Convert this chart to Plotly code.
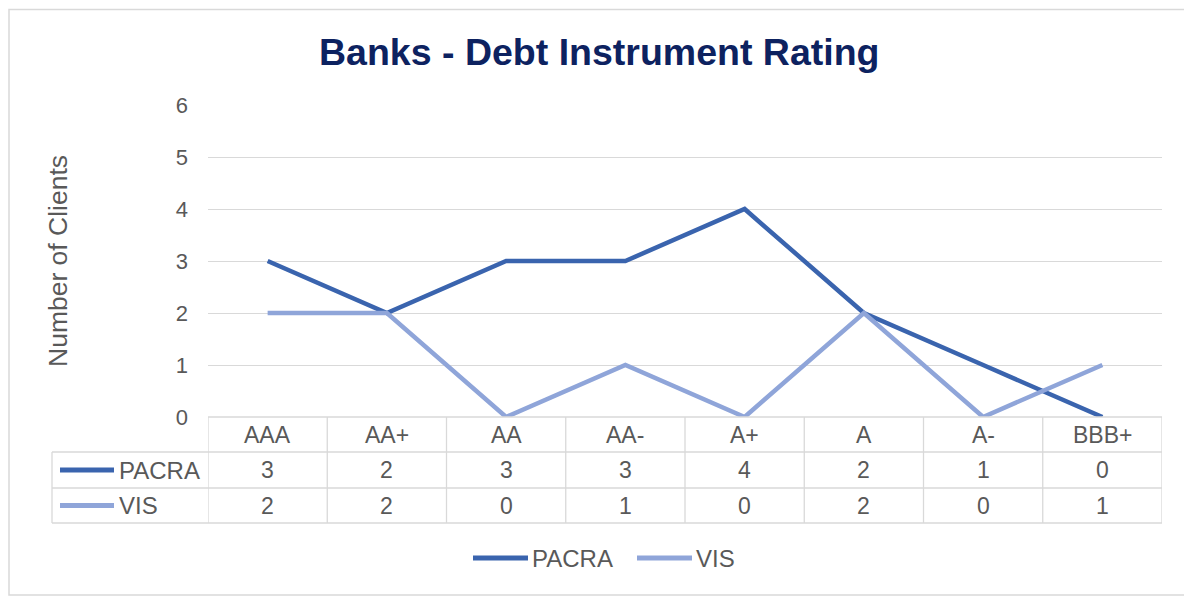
import plotly.graph_objects as go

categories = ["AAA", "AA+", "AA", "AA-", "A+", "A", "A-", "BBB+"]
pacra = [3, 2, 3, 3, 4, 2, 1, 0]
vis = [2, 2, 0, 1, 0, 2, 0, 1]
series_names = ["PACRA", "VIS"]
y_ticks = [0, 1, 2, 3, 4, 5, 6]

OFF = 8  # page body margin
W, H = 1192 - OFF, 597 - OFF
L, R, T, B = 208, 1162, 105, 417
PW, PH = R - L, B - T
C_PACRA = "#3A64AE"
C_VIS = "#8FA5D9"
GRID = "#D9D9D9"
TXT = "#595959"
FONT = "Liberation Sans, Arial, sans-serif"


def px(x):
    return (x - L) / PW


def py(y):
    return (B - y) / PH


fig = go.Figure()
for name, vals, col in [(series_names[0], pacra, C_PACRA), (series_names[1], vis, C_VIS)]:
    fig.add_trace(go.Scatter(x=categories, y=vals, mode="lines", name=name,
                             line=dict(color=col, width=4.5), cliponaxis=False,
                             showlegend=False))

shapes = []
annotations = []

# outer border
shapes.append(dict(type="rect", xref="paper", yref="paper",
                   x0=px(9), x1=px(1186), y0=py(9.5), y1=py(595),
                   line=dict(color=GRID, width=1.5), layer="below"))

# table rows
row_y = [417, 452, 488, 523]
tab_left = 52
n = len(categories)
for i, yy in enumerate(row_y):
    x0 = px(L) if i == 0 else px(tab_left)
    shapes.append(dict(type="line", xref="paper", yref="paper",
                       x0=x0, x1=px(R), y0=py(yy), y1=py(yy),
                       line=dict(color=GRID, width=1.3)))
for k in range(n + 1):
    xb = k - 0.5
    shapes.append(dict(type="line", xref="x", yref="paper",
                       x0=xb, x1=xb, y0=py(417), y1=py(523),
                       line=dict(color=GRID, width=1.3)))
shapes.append(dict(type="line", xref="paper", yref="paper",
                   x0=px(tab_left), x1=px(tab_left), y0=py(452), y1=py(523),
                   line=dict(color=GRID, width=1.3)))

# header row text
for c in categories:
    annotations.append(dict(x=c, y=py(435), xref="x", yref="paper", text=c,
                            showarrow=False, font=dict(size=23, color=TXT, family=FONT),
                            xanchor="center", yanchor="middle"))
row_centers = [470, 505.5]
for vals, yc in zip([pacra, vis], row_centers):
    for c, v in zip(categories, vals):
        annotations.append(dict(x=c, y=py(yc), xref="x", yref="paper", text=str(v),
                                showarrow=False, font=dict(size=23, color=TXT, family=FONT),
                                xanchor="center", yanchor="middle"))
for name, col, yc in [(series_names[0], C_PACRA, 470), (series_names[1], C_VIS, 505.5)]:
    shapes.append(dict(type="line", xref="paper", yref="paper",
                       x0=px(60), x1=px(114), y0=py(yc), y1=py(yc),
                       line=dict(color=col, width=5)))
    annotations.append(dict(x=px(117), y=py(yc), xref="paper", yref="paper", text=name,
                            showarrow=False, font=dict(size=24, color=TXT, family=FONT),
                            xanchor="left", yanchor="middle"))

# bottom legend
for name, col, x0, x1 in [(series_names[0], C_PACRA, 473, 528), (series_names[1], C_VIS, 637, 692)]:
    shapes.append(dict(type="line", xref="paper", yref="paper",
                       x0=px(x0), x1=px(x1), y0=py(558), y1=py(558),
                       line=dict(color=col, width=5)))
    annotations.append(dict(x=px(x1 + 2), y=py(558), xref="paper", yref="paper", text=name,
                            showarrow=False, font=dict(size=24, color=TXT, family=FONT),
                            xanchor="left", yanchor="middle"))

# title
annotations.append(dict(x=px(599), y=py(52), xref="paper", yref="paper",
                        text="<b>Banks - Debt Instrument Rating</b>", showarrow=False,
                        font=dict(size=37.5, color="#0D2260", family=FONT),
                        xanchor="center", yanchor="middle"))
# y axis title
annotations.append(dict(x=px(58), y=py(261), xref="paper", yref="paper",
                        text="Number of Clients", textangle=-90, showarrow=False,
                        font=dict(size=26.5, color=TXT, family=FONT),
                        xanchor="center", yanchor="middle"))

fig.update_layout(
    width=W, height=H,
    margin=dict(l=L - OFF, r=W - (R - OFF), t=T - OFF, b=H - (B - OFF), pad=0),
    paper_bgcolor="white", plot_bgcolor="white",
    shapes=shapes, annotations=annotations,
    showlegend=False,
    xaxis=dict(type="category", categoryorder="array", categoryarray=categories,
               range=[-0.5, n - 0.5], showticklabels=False, showgrid=False,
               zeroline=False, showline=False, ticks=""),
    yaxis=dict(range=[0, 6], tickvals=y_ticks, showgrid=True, gridcolor=GRID,
               gridwidth=1.3, zeroline=False, showline=False, ticks="",
               tickfont=dict(size=22, color=TXT, family=FONT),
               ticklabelstandoff=19),
)

fig.write_html("out.html")
